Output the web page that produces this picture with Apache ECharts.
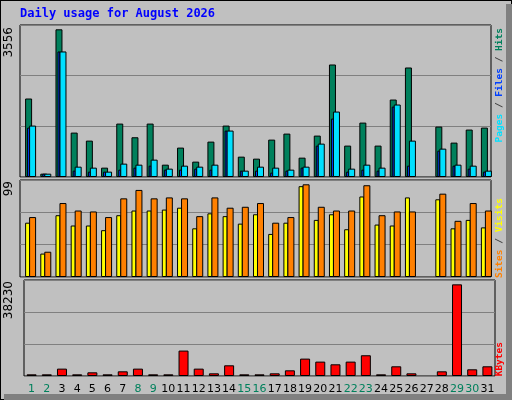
<!DOCTYPE html>
<html><head><meta charset="utf-8">
<script src="https://cdn.jsdelivr.net/npm/echarts@6/dist/echarts.min.js"></script>
<style>html,body{margin:0;padding:0;background:#c0c0c0}#c{width:512px;height:400px}</style>
</head><body><div id="c"></div>
<script>
const days = ['1','2','3','4','5','6','7','8','9','10','11','12','13','14','15','16','17','18','19','20','21','22','23','24','25','26','27','28','29','30','31'];
const weekend = ['1','2','8','9','15','16','22','23','29','30'];
const hits  = [1890,80,3556,1069,876,225,1286,957,1286,297,708,370,852,1238,490,442,900,1045,466,997,2709,756,1310,756,1865,2637,null,1214,828,1142,1190];
const files = [1190,80,3023,153,129,129,177,225,273,177,177,201,177,1118,153,153,105,153,225,756,1407,129,177,153,1696,273,null,635,273,201,129];
const pages = [1238,80,3023,249,225,129,322,297,418,201,273,249,297,1118,153,249,225,177,249,804,1576,201,297,225,1745,876,null,683,297,273,153];
const sites = [58,25,66,55,55,50,66,71,71,72,74,52,68,65,57,67,46,58,97,61,67,51,86,56,55,85,null,83,52,61,53];
const visits= [64,27,79,71,70,64,84,93,84,85,84,65,85,74,75,79,58,64,99,75,71,71,98,66,70,70,null,89,60,79,71];
const kbytes= [700,700,3070,700,1535,700,1950,3070,700,700,10600,3070,1116,4464,700,700,1116,2370,7254,6000,4880,6000,8650,700,4045,1116,null,1950,38230,2790,4045];
const maxLabels = ['3556','99','38230'];

const panels = [
  {top:25, h:152, max:3660},
  {top:180, h:97, max:103.6},
  {top:280, h:96, max:40044}
];
const L = 20, W = 471;
const grids=[], xAxes=[], yAxes=[], series=[];
function addGrid(p, dx, main, showLabels){
  const i = grids.length;
  grids.push({left:L+dx, top:p.top, width:W, height:p.h, show:main, backgroundColor:'#c0c0c0', borderColor:'#000', borderWidth:1});
  xAxes.push({type:'category', gridIndex:i, data:days, boundaryGap:true,
    axisLine:{show:false}, axisTick:{show:false},
    axisLabel:{show:showLabels, interval:0, hideOverlap:false, margin:8, fontSize:11, fontFamily:'DejaVu Sans',
      formatter:v=> weekend.includes(v)?'{g|'+v+'}':'{k|'+v+'}',
      rich:{g:{color:'#00805c',fontSize:11,fontFamily:'DejaVu Sans'},k:{color:'#000',fontSize:11,fontFamily:'DejaVu Sans'}}}});
  yAxes.push({type:'value', gridIndex:i, min:0, max:p.max, interval:p.max/3,
    axisLabel:{show:false}, axisLine:{show:false}, axisTick:{show:false},
    splitLine:{show:main, lineStyle:{color:'#808080', width:1}}});
  return i;
}
function bar(gi, data, color, w, z){
  series.push({type:'bar', xAxisIndex:gi, yAxisIndex:gi, data:data, barWidth:w, z:z, silent:true,
    itemStyle:{color:color, borderColor:'#000', borderWidth:1}});
}
let g = addGrid(panels[0], 0, true, false);
g = addGrid(panels[0], 1, false, false); bar(g, hits, '#00805c', 7, 2);
g = addGrid(panels[0], 1, false, false); bar(g, files, '#0040ff', 3, 3);
g = addGrid(panels[0], 5, false, false); bar(g, pages, '#00e0ff', 7, 4);
g = addGrid(panels[1], 0, true, false);
g = addGrid(panels[1], 0, false, false); bar(g, sites, '#ffff00', 5, 2);
g = addGrid(panels[1], 5, false, false); bar(g, visits, '#ff8000', 7, 3);
g = addGrid(panels[2], 4, true, true); bar(g, kbytes, '#ff0000', 10, 2);

const font = 'bold 9.5px "DejaVu Sans Mono", monospace';
const graphic = [
  {type:'rect', shape:{x:0,y:0,width:512,height:400}, style:{fill:'#c0c0c0', stroke:'#000', lineWidth:2}, z:-10},
  {type:'rect', shape:{x:506,y:4,width:6,height:396}, style:{fill:'#808080'}, z:-9},
  {type:'rect', shape:{x:4,y:394,width:508,height:6}, style:{fill:'#808080'}, z:-9},
  {type:'text', x:20, y:8, style:{text:'Daily usage for August 2026', font:'bold 12px "DejaVu Sans Mono", monospace', fill:'#0000ff'}},
];
const ytops=[27,181,281];
maxLabels.forEach((t,i)=>graphic.push({type:'text', x:9, y:ytops[i], rotation:Math.PI/2,
  style:{text:t, font:'12px "DejaVu Sans", sans-serif', fill:'#000', align:'right', verticalAlign:'middle'}}));
function legend(y, parts){
  const rich={};
  parts.forEach((p,i)=>rich['s'+i]={fill:p[1], font:font});
  graphic.push({type:'text', x:500, y:y, rotation:Math.PI/2,
    style:{text:parts.map((p,i)=>'{s'+i+'|'+p[0]+'}').join(''), rich:rich, font:font, align:'right', verticalAlign:'middle'}});
}
legend(28, [['Pages','#00e0ff'],[' / ','#404040'],['Files','#0040ff'],[' / ','#404040'],['Hits','#00805c']]);
legend(198, [['Sites','#ff8000'],[' / ','#404040'],['Visits','#ffff00']]);
legend(342, [['KBytes','#ff0000']]);

const chart = echarts.init(document.getElementById('c'), null, {renderer:'canvas'});
chart.setOption({animation:false, backgroundColor:'#c0c0c0', grid:grids, xAxis:xAxes, yAxis:yAxes, series:series, graphic:graphic});
</script></body></html>
